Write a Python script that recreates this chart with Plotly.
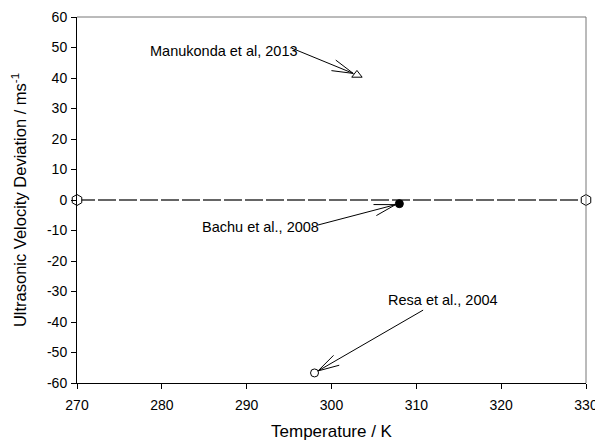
import math
import plotly.graph_objects as go

# Reference line (zero deviation) spanning the temperature range
ref_T = [270, 330]
ref_dev = [0, 0]

# Literature comparison points: temperature (K) and velocity deviation (m/s)
studies = ["Manukonda et al, 2013", "Bachu et al., 2008", "Resa et al., 2004"]
study_T = [303, 308, 298]
study_dev = [41, -1.2, -56.7]
study_symbols = ["triangle-up-open", "circle", "circle-open"]
study_sizes = [9, 8, 8]

# Label placement (centre of text) and arrow tail for each study, in data units
label_x = [287.3, 291.6, 313.1]
label_y = [48.9, -8.9, -32.8]
tail_x = [295.3, 298.4, 310.8]
tail_y = [49.8, -8.2, -36.1]

x_range = [270, 330]
y_range = [-60, 60]
x_ticks = [270, 280, 290, 300, 310, 320, 330]
y_ticks = [-60, -50, -40, -30, -20, -10, 0, 10, 20, 30, 40, 50, 60]
y_tick_labels = ["-60", "-50", "-40", "-30", "-20", "-10", "0",
                 "10", "20", "30", "40", "50", "60"]

W, H = 595, 441
M = dict(l=77, r=9, t=17, b=58)
FONT = "Liberation Sans, Arial, sans-serif"

fig = go.Figure()

fig.add_trace(go.Scatter(
    x=ref_T, y=ref_dev, mode="lines+markers",
    line=dict(color="#333333", width=1.5, dash="18px,3px"),
    marker=dict(symbol="hexagon", size=11, color="white",
                line=dict(color="black", width=1)),
    cliponaxis=False, showlegend=False,
))

for name, t, d, sym, sz in zip(studies, study_T, study_dev, study_symbols, study_sizes):
    fig.add_trace(go.Scatter(
        x=[t], y=[d], mode="markers", name=name,
        marker=dict(symbol=sym, size=sz, color="black",
                    line=dict(color="black", width=1)),
        showlegend=False,
    ))

# Pixel scale of the plotting area, used to build open "V" arrowheads
pw = W - M["l"] - M["r"]
ph = H - M["t"] - M["b"]
sx = pw / (x_range[1] - x_range[0])
sy = ph / (y_range[1] - y_range[0])


def to_px(x, y):
    return (x - x_range[0]) * sx, (y_range[1] - y) * sy


def to_data(px, py):
    return x_range[0] + px / sx, y_range[1] - py / sy


shapes = []
wing_len = 22
half_angle = math.radians(15)
tip_gap = 4
for name, t, d, lx, ly, tx, ty in zip(studies, study_T, study_dev,
                                      label_x, label_y, tail_x, tail_y):
    fig.add_annotation(x=lx, y=ly, text=name, showarrow=False,
                       font=dict(family=FONT, size=14.5, color="black"))
    px0, py0 = to_px(tx, ty)
    px1, py1 = to_px(t, d)
    ang = math.atan2(py0 - py1, px0 - px1)
    tipx = px1 + tip_gap * math.cos(ang)
    tipy = py1 + tip_gap * math.sin(ang)
    tip = to_data(tipx, tipy)
    line_style = dict(color="black", width=1)
    shapes.append(dict(type="line", xref="x", yref="y", x0=tx, y0=ty,
                       x1=tip[0], y1=tip[1], line=line_style))
    for s in (-1, 1):
        a = ang + s * half_angle
        w = to_data(tipx + wing_len * math.cos(a), tipy + wing_len * math.sin(a))
        shapes.append(dict(type="line", xref="x", yref="y", x0=w[0], y0=w[1],
                           x1=tip[0], y1=tip[1], line=line_style))

# Light frame on the top and right edges
shapes.append(dict(type="line", xref="paper", yref="paper", x0=0, x1=1, y0=1, y1=1,
                   line=dict(color="#777777", width=1)))
shapes.append(dict(type="line", xref="paper", yref="paper", x0=1, x1=1, y0=0, y1=1,
                   line=dict(color="#777777", width=1)))

fig.update_layout(
    width=W, height=H, margin=M,
    paper_bgcolor="white", plot_bgcolor="white",
    font=dict(family=FONT, size=14, color="black"),
    shapes=shapes,
    xaxis=dict(range=x_range, tickvals=x_ticks, showgrid=False, zeroline=False,
               showline=True, linecolor="black", linewidth=1,
               ticks="outside", ticklen=5, tickcolor="black",
               ticklabeloverflow="allow", automargin=False, ticklabelstandoff=4,
               title=dict(text="Temperature / K", font=dict(size=17), standoff=26)),
    yaxis=dict(range=y_range, tickvals=y_ticks, ticktext=y_tick_labels,
               showgrid=False, zeroline=False,
               showline=True, linecolor="black", linewidth=1,
               ticks="outside", ticklen=5, tickcolor="black", automargin=False,
               ticklabelstandoff=1,
               title=dict(text="Ultrasonic Velocity Deviation / ms<sup>-1</sup>",
                          font=dict(size=16.5), standoff=16)),
)

fig.write_html("out.html")
